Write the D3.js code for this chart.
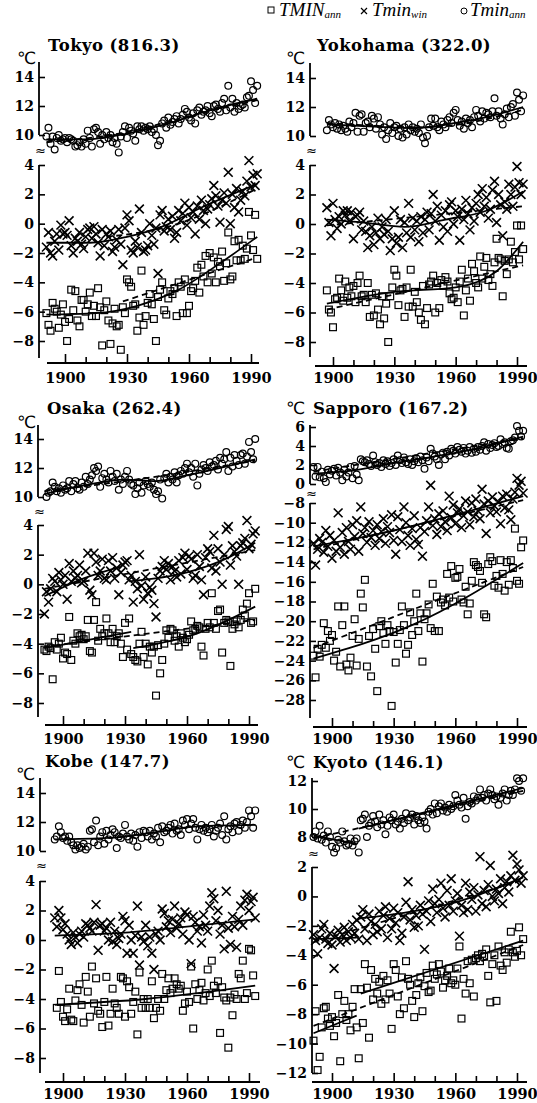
<!DOCTYPE html>
<html>
<head>
<meta charset="utf-8">
<script src="https://cdn.jsdelivr.net/npm/d3@7"></script>
<style>
  body { margin: 0; background: #fff; }
  svg { display: block; }
</style>
</head>
<body>
<div id="chart"></div>
<script>
// ---- data: annual mean Tmin (circles), winter Tmin (crosses), annual absolute minimum (squares)
const tokyoStart = 1891;
const tokyoAnn = [
  9.9, 10.5, 9.4, 9.9, 9.0, 9.8, 10.0, 9.6, 9.7, 9.8,
  9.5, 9.8, 9.7, 9.6, 9.2, 9.3, 9.5, 9.2, 9.7, 9.4,
  10.3, 9.8, 9.2, 10.4, 10.5, 10.2, 9.4, 10.0, 9.7, 10.2,
  9.8, 10.0, 9.5, 9.8, 9.4, 8.8, 9.9, 10.2, 10.6, 9.8,
  10.5, 10.3, 10.1, 9.6, 10.6, 10.4, 10.6, 10.3, 10.5, 10.4,
  10.6, 10.2, 10.4, 10.0, 9.3, 9.6, 10.8, 11.0, 10.5, 11.2,
  10.7, 10.9, 11.1, 11.3, 10.8, 11.1, 11.4, 11.8, 11.6, 11.2,
  11.0, 11.5, 10.8, 11.7, 11.9, 11.4, 11.6, 11.7, 12.0, 11.5,
  11.3, 12.0, 12.1, 11.8, 11.6, 12.2, 12.5, 11.7, 13.4, 11.9,
  12.5, 11.6, 12.2, 11.8, 12.0, 12.1, 11.9, 12.6, 12.7, 13.7,
  13.1, 12.2, 13.4
];
const tokyoWin = [
  -1.6, -0.6, -2.0, -2.2, -1.2, -0.7, -1.8, -0.1, -0.7, -0.6,
  -0.8, 0.2, -1.5, -2.0, -1.0, -1.2, -0.6, -1.4, -1.7, -0.9,
  -0.4, -0.3, -1.0, -0.2, -0.7, -1.3, -2.2, -0.4, -1.5, -0.7,
  -0.9, -0.5, -1.9, -1.6, -1.1, -0.4, -1.4, -2.8, -0.3, 0.6,
  0.2, -1.8, -2.0, -1.2, -1.6, 1.0, -0.6, -1.9, -1.8, -1.5,
  0.0, -0.8, -1.4, -0.3, -3.4, 0.6, 0.9, -0.5, -0.2, 0.3,
  -0.4, 0.5, -1.0, -0.6, 0.9, 0.2, 0.7, 1.4, -0.1, 1.1,
  0.4, 0.8, -0.7, 1.2, 0.3, 1.6, 0.9, 0.0, 1.0, 1.3,
  1.7, 2.6, 1.9, 1.2, 0.1, 1.6, 2.1, 1.4, 3.5, 0.0,
  2.0, 1.1, 2.4, 0.8, 1.6, 2.2, 1.9, 2.9, 4.3, 2.5,
  3.3, 2.6, 3.4
];
const tokyoMin = [
  -6.1, -6.9, -7.3, -5.4, -5.8, -6.0, -7.1, -6.2, -5.5, -6.7,
  -8.0, -6.5, -4.5, -5.9, -4.6, -6.6, -7.0, -5.2, -5.2, -6.0,
  -5.5, -4.7, -6.3, -5.6, -6.3, -4.4, -5.7, -8.3, -5.9, -5.3,
  -6.6, -8.2, -6.8, -5.8, -7.0, -6.9, -8.6, -5.7, -6.1, -3.8,
  -4.0, -4.3, -5.6, -5.5, -7.3, -6.4, -3.2, -6.9, -6.3, -5.4,
  -4.8, -5.5, -6.5, -8.0, -5.0, -4.5, -4.0, -5.9, -6.2, -5.1,
  -4.6, -4.8, -4.4, -6.3, -4.0, -4.3, -6.1, -3.8, -6.1, -5.6,
  -4.6, -4.4, -3.9, -3.0, -4.7, -2.8, -3.6, -2.2, -4.0, -2.0,
  -3.4, -2.3, -4.0, -2.6, -2.9, -1.9, -3.9, -2.7, -0.6, -3.8,
  -3.6, -1.2, -2.5, -1.1, -2.5, -1.5, -2.4, -1.7, 0.8, -0.8,
  -1.8, 0.6, -2.4
];
const tokyoAnnFit = [[[1891, 9.7], [1910, 9.7], [1930, 10.1], [1950, 10.8], [1970, 11.7], [1993, 12.5]]];
const tokyoAnnFit2 = [[[1891, 9.5], [1930, 10.2], [1960, 11.3], [1993, 12.4]]];
const tokyoWinFit = [[[1891, -1.3], [1912, -1.3], [1930, -0.9], [1947, -0.2], [1966, 1.1], [1993, 2.7]]];
const tokyoWinFit2 = [[[1920, -0.9], [1950, -0.2], [1993, 2.4]]];
const tokyoMinFit = [[[1891, -6.2], [1915, -6.1], [1935, -5.6], [1955, -4.5], [1975, -2.7], [1993, -0.9]]];
const tokyoMinFit2 = [[[1928, -5.3], [1991, -2.4]]];

const yokoStart = 1897;
const yokoAnn = [
  10.4, 11.1, 10.8, 10.6,
  10.9, 10.5, 10.8, 10.4, 10.7, 10.5, 10.3, 11.0, 10.6, 10.9,
  11.6, 10.3, 11.4, 11.5, 10.3, 10.9, 11.0, 10.6, 11.4, 11.2,
  10.5, 11.3, 10.8, 10.1, 10.6, 9.8, 10.4, 10.9, 10.2, 10.6,
  10.7, 10.0, 10.5, 9.9, 10.6, 10.1, 10.8, 10.4, 10.6, 10.3,
  10.5, 10.2, 10.8, 9.9, 9.5, 10.0, 10.6, 11.2, 10.7, 11.2,
  10.6, 10.4, 11.0, 10.8, 10.6, 11.1, 11.3, 10.9, 11.6, 11.8,
  11.1, 10.7, 11.0, 10.5, 11.2, 10.9, 11.1, 10.6, 11.3, 11.8,
  11.4, 11.0, 11.7, 11.2, 11.6, 11.5, 11.3, 11.7, 12.6, 11.4,
  11.7, 11.2, 10.8, 11.5, 11.9, 11.3, 12.0, 12.2, 11.4, 13.0,
  12.5, 11.7, 12.8
];
const yokoWin = [
  1.1, 0.1, -0.8, 1.4,
  0.3, -0.3, 0.5, 0.0, 0.9, 0.6, 0.9, 0.2, 0.8, -1.0,
  0.5, 0.6, 0.8, -0.4, 0.2, -0.5, -1.6, -0.8, -0.2, -1.4,
  -0.6, 0.4, -1.0, -0.2, -0.7, 0.3, -0.5, -1.8, -1.0, 0.9,
  -1.3, -0.9, 0.3, -1.6, 0.1, -0.6, 1.4, -0.9, 0.4, -0.4,
  0.2, -1.2, 0.5, -0.6, 0.3, 0.8, -0.4, 0.7, 2.0, 0.2,
  1.2, -1.1, 0.6, -0.2, 0.9, -0.5, 1.3, 1.5, 0.0, 0.9,
  0.5, -1.1, 1.0, 0.3, 1.6, 0.7, -0.4, 1.1, 0.2, 1.4,
  2.0, 0.8, 2.4, 1.2, 1.8, 0.4, 1.0, 2.3, 2.9, 0.1,
  2.0, 1.3, -0.8, 1.5, 1.0, 2.7, 2.0, 1.2, 2.5, 3.9,
  2.8, 2.0, 2.7
];
const yokoMin = [
  -4.5, -5.8, -6.0, -7.0,
  -5.1, -5.0, -3.7, -4.5, -5.2, -3.9, -5.0, -4.3, -4.9, -4.2,
  -5.3, -4.0, -3.5, -4.9, -4.8, -5.3, -4.0, -6.3, -4.8, -6.2,
  -4.7, -5.8, -6.8, -4.9, -6.4, -5.4, -8.0, -4.9, -4.3, -3.1,
  -3.5, -5.5, -4.5, -4.4, -6.3, -4.3, -5.6, -3.1, -5.6, -4.6,
  -5.3, -6.0, -6.5, -4.2, -6.8, -5.7, -4.1, -3.9, -3.5, -6.0,
  -4.0, -5.7, -3.8, -4.2, -3.6, -3.9, -4.7, -5.1, -5.0, -4.3,
  -5.3, -3.9, -3.1, -6.2, -4.5, -3.7, -5.2, -2.7, -3.2, -4.0,
  -4.3, -2.2, -3.7, -2.9, -2.3, -3.8, -3.4, -4.2, -2.6, -1.0,
  -2.3, -2.4, -4.9, -2.5, -3.4, -2.4, -1.2, -2.6, -1.9, -0.1,
  -2.4, -0.1, -1.7
];
const yokoAnnFit = [[[1897, 10.8], [1920, 10.65], [1940, 10.55], [1960, 10.9], [1975, 11.3], [1993, 12.0]]];
const yokoAnnFit2 = [[[1897, 10.9], [1945, 10.6], [1993, 11.8]]];
const yokoWinFit = [[[1897, 0.3], [1915, 0.1], [1935, -0.2], [1955, 0.3], [1975, 0.9], [1993, 2.2]]];
const yokoWinFit2 = [[[1897, -0.1], [1993, 1.2]]];
const yokoMinFit = [[[1897, -5.4], [1930, -4.6], [1960, -4.3], [1980, -3.2], [1993, -1.2]]];
const yokoMinFit2 = [[[1897, -5.8], [1993, -2.8]]];

const osakaStart = 1891;
const osakaAnn = [
  null, 10.0, 10.3, 10.4, 11.0, 10.7, 10.4, 10.6, 10.3, 10.8,
  10.5, 10.6, 11.1, 10.4, 10.9, 11.1, 10.6, 10.5, 11.0, 10.7,
  11.4, 10.9, 11.2, 11.5, 12.0, 11.8, 12.1, 10.7, 11.3, 11.6,
  11.2, 11.0, 11.8, 11.4, 11.1, 11.6, 10.5, 11.2, 10.9, 11.4,
  11.8, 11.2, 10.9, 10.8, 10.2, 10.6, 11.0, 10.3, 10.8, 11.1,
  10.9, 10.7, 11.0, 10.5, 10.2, 10.4, 11.2, 9.9, 11.3, 11.6,
  11.0, 11.4, 11.2, 11.7, 11.0, 11.5, 11.8, 11.6, 12.0, 12.3,
  11.7, 12.0, 11.4, 12.3, 10.8, 11.6, 11.9, 12.2, 12.0, 11.8,
  12.4, 12.1, 12.2, 12.5, 11.9, 12.7, 12.3, 12.6, 13.1, 11.8,
  12.7, 12.1, 12.9, 12.5, 12.2, 12.9, 13.0, 12.3, 12.8, 13.8,
  13.1, 12.6, 14.0
];
const osakaWin = [
  -2.0, -0.5, -1.2, -0.3, 0.4, 0.2, -0.5, 0.8, 0.3, 0.0,
  0.6, -1.0, 1.4, 0.2, 0.9, 0.4, 0.6, 1.3, 0.1, 0.2,
  0.9, 2.1, -0.4, -0.7, 2.1, 1.5, 0.6, 0.9, 1.7, 0.4,
  0.3, 1.6, 0.9, 1.8, 0.4, 1.1, -0.7, 0.8, 1.3, 1.5,
  1.6, 0.3, 0.6, -1.2, 0.2, -0.3, 2.0, -0.1, -1.0, 0.5,
  -0.6, -0.2, -0.4, -1.3, -2.2, 0.4, 0.9, 1.2, 1.6, 1.0,
  1.4, 0.3, 1.2, 0.9, 0.5, 1.6, 0.7, 1.8, 2.1, 1.0,
  1.9, 1.7, 0.4, 0.6, 2.0, 1.2, 0.3, -0.7, 1.8, 2.4,
  2.2, 1.1, 3.3, 0.9, 2.4, 1.5, 0.0, 2.0, 3.7, 3.9,
  1.3, 2.6, 2.2, 1.9, 0.0, 2.6, 2.8, 3.1, 4.3, 2.4,
  2.7, 3.4, 3.6
];
const osakaMin = [
  -4.4, -4.5, -4.2, -4.3, -6.4, -3.9, -4.4, -4.0, -3.6, -5.0,
  -4.6, -4.7, -2.2, -5.1, -3.8, -4.0, -3.3, -3.5, -3.4, -3.7,
  -3.5, -2.4, -4.5, -4.6, -2.4, -1.2, -3.8, -3.0, -3.5, -3.3,
  -2.3, -3.3, -3.9, -3.0, -3.9, -3.5, -3.3, -4.0, -4.9, -2.6,
  -4.4, -2.3, -4.7, -4.9, -5.1, -5.2, -4.0, -3.2, -4.9, -4.0,
  -5.4, -4.2, -4.6, -4.2, -7.5, -4.1, -6.0, -5.1, -4.0, -3.1,
  -3.6, -3.0, -3.1, -3.8, -3.5, -4.2, -3.3, -3.6, -3.9, -3.7,
  -3.4, -2.5, -3.1, -3.0, -2.8, -2.9, -4.2, -4.8, -3.0, -2.6,
  -2.9, -0.6, -2.6, -3.0, -1.8, -1.7, -4.6, -2.6, -2.4, -2.5,
  -5.5, -3.0, -2.7, -2.5, -2.9, -2.4, -1.7, -2.1, -1.3, -0.6,
  -2.6, -2.5, -0.3
];
const osakaAnnFit = [[[1891, 10.2], [1910, 10.8], [1930, 11.2], [1945, 11.1], [1960, 11.5], [1993, 12.6]]];
const osakaAnnFit2 = [[[1891, 10.4], [1940, 11.3], [1993, 12.5]]];
const osakaWinFit = [[[1891, -0.8], [1910, 0.4], [1928, 1.2]], [[1932, 0.2], [1960, 0.8], [1980, 1.8], [1993, 2.8]]];
const osakaWinFit2 = [[[1891, -0.3], [1993, 2.3]]];
const osakaMinFit = [[[1891, -4.3], [1933, -3.2]], [[1934, -4.3], [1965, -3.3], [1993, -1.5]]];
const osakaMinFit2 = [[[1891, -4.2], [1993, -2.4]]];

const sapporoStart = 1891;
const sapporoAnn = [
  1.8, 0.8, 1.8, 0.7, 1.3, 0.6, 0.2, 1.5, 1.0, 1.4,
  1.6, 0.9, 1.7, 1.2, 0.4, 1.5, 0.8, 1.2, 1.8, 0.6,
  1.9, 1.0, 0.4, 2.6, 2.4, 2.3, 2.5, 2.1, 1.9, 3.0,
  2.3, 2.0, 2.2, 1.8, 2.5, 2.1, 2.4, 1.9, 2.2, 2.6,
  2.0, 3.0, 2.5, 2.2, 2.8, 2.3, 2.1, 2.6, 2.0, 2.4,
  2.7, 2.3, 2.9, 2.5, 1.6, 2.8, 2.4, 3.7, 3.2, 2.9,
  2.6, 2.0, 3.1, 3.3, 2.6, 3.4, 3.0, 3.7, 3.5, 3.2,
  3.9, 3.6, 3.4, 3.8, 3.2, 3.5, 3.9, 3.3, 3.7, 3.4,
  3.9, 3.6, 4.0, 4.4, 3.5, 4.2, 3.8, 4.1, 4.3, 3.9,
  4.0, 4.7, 4.2, 4.4, 3.8, 3.7, 4.5, 4.6, 4.9, 6.1,
  5.6, 5.0, 5.6
];
const sapporoWin = [
  -12.1, -14.3, -12.7, -11.6, -12.0, -13.0, -10.8, -12.4, -11.3, -13.6,
  -11.8, -12.9, -9.0, -12.5, -11.0, -13.2, -10.5, -11.9, -12.7, -10.2,
  -11.4, -9.8, -12.9, -8.4, -11.1, -10.5, -12.0, -9.9, -11.5, -10.8,
  -12.3, -10.2, -11.6, -10.9, -9.6, -12.1, -10.4, -11.0, -9.2, -11.8,
  -13.2, -9.4, -10.7, -11.9, -8.4, -10.0, -11.3, -12.3, -10.6, -9.3,
  -11.7, -12.2, -10.5, -13.4, -10.9, -9.8, -8.4, -6.2, -10.3, -9.6,
  -11.2, -9.1, -10.4, -8.8, -9.9, -10.8, -7.3, -9.5, -8.2, -10.1,
  -9.0, -8.6, -10.5, -9.3, -7.8, -8.9, -10.2, -8.0, -9.4, -7.6,
  -8.8, -9.6, -6.6, -8.1, -11.1, -7.8, -9.0, -7.4, -8.3, -8.9,
  -7.9, -10.1, -7.3, -8.5, -7.1, -8.7, -9.7, -7.6, -6.9, -5.5,
  -6.2, -5.8, -7.0
];
const sapporoMin = [
  -23.5, -25.7, -22.8, -23.6, -22.4, -20.2, -22.7, -21.0, -22.0, -21.4,
  -24.0, -23.1, -18.5, -24.6, -20.4, -18.5, -24.4, -25.0, -23.7, -21.5,
  -19.8, -24.5, -21.8, -17.2, -18.6, -15.8, -24.6, -21.5, -25.6, -20.8,
  -22.8, -27.1, -20.5, -20.0, -21.2, -22.3, -20.4, -21.0, -28.6, -21.1,
  -24.2, -22.3, -20.9, -18.5, -20.4, -23.3, -22.4, -19.1, -21.4, -20.0,
  -17.2, -21.0, -19.2, -24.1, -19.8, -19.2, -18.3, -20.7, -16.2, -21.0,
  -17.5, -21.0, -18.1, -17.8, -18.4, -15.2, -17.6, -14.4, -18.0, -15.6,
  -15.5, -14.7, -17.8, -18.1, -16.5, -19.3, -18.2, -15.9, -14.0, -14.3,
  -14.5, -14.9, -16.1, -19.3, -19.6, -14.2, -13.5, -13.9, -16.4, -15.4,
  -16.6, -13.8, -15.2, -16.9, -14.0, -16.3, -13.8, -14.6, -10.6, -15.9,
  -16.2, -12.5, -11.8
];
const sapporoAnnFit = [[[1891, 1.1], [1910, 1.4], [1930, 2.2], [1950, 2.9], [1970, 3.7], [1993, 5.0]]];
const sapporoAnnFit2 = [[[1891, 1.3], [1993, 4.8]]];
const sapporoWinFit = [[[1891, -12.4], [1930, -10.8], [1960, -9.2], [1993, -7.3]]];
const sapporoWinFit2 = [[[1891, -12.7], [1993, -7.7]]];
const sapporoMinFit = [[[1891, -23.8], [1940, -20.3], [1993, -14.1]]];
const sapporoMinFit2 = [[[1891, -22.7], [1993, -14.5]]];

const kobeStart = 1896;
const kobeAnn = [
  10.8, 11.0, 11.7, 11.3, 10.9,
  11.0, 10.7, 11.0, 10.6, 10.4, 10.1, 10.4, 10.2, 10.3, 10.5,
  10.1, 10.3, 11.4, 11.5, 10.6, 12.1, 10.4, 11.0, 11.3, 10.5,
  11.4, 10.8, 11.1, 11.5, 11.3, 10.2, 11.0, 10.9, 11.2, 11.8,
  11.0, 10.8, 11.2, 10.7, 11.1, 10.3, 11.3, 10.9, 11.4, 11.3,
  11.0, 11.4, 10.8, 11.2, 11.0, 11.6, 10.6, 11.7, 11.3, 11.4,
  11.6, 11.8, 11.2, 11.9, 11.4, 11.5, 11.1, 12.1, 11.8, 12.2,
  11.5, 11.9, 12.2, 11.6, 10.8, 11.5, 11.8, 11.4, 11.6, 11.3,
  11.5, 11.8, 11.0, 11.4, 11.6, 11.9, 11.1, 12.4, 10.8, 11.5,
  11.7, 11.3, 11.9, 12.0, 11.4, 11.8, 12.1, 11.6, 12.0, 12.8,
  12.4, 11.6, 12.8
];
const kobeWin = [
  1.5, 0.9, 2.0, 1.5, 0.7,
  1.1, 0.4, 0.0, -0.3, 0.5, 0.2, -0.2, 0.4, 0.6, 0.2,
  1.1, 1.0, 0.8, 0.6, 1.2, 2.4, -0.7, 1.0, 1.1, 0.6,
  0.8, 0.0, 1.2, -0.1, 0.6, -0.3, 0.1, 0.4, 1.6, 1.3,
  -0.9, 1.0, 0.0, -0.9, 0.3, 2.3, -1.7, 0.2, -0.1, 1.0,
  -0.4, 0.2, -0.9, -2.0, 0.4, 0.6, 0.0, 2.1, 1.8, 0.9,
  1.3, 0.5, 1.4, 2.3, 0.8, 1.1, 1.5, 0.4, 1.9, 1.7,
  0.0, -1.6, 1.6, 1.2, 0.6, 0.9, -0.2, 1.7, 1.0, 0.6,
  2.3, 3.2, 2.8, 1.3, 2.0, 0.4, 1.0, -0.6, 3.3, 0.8,
  -0.3, 1.6, 0.9, -0.5, 1.4, 2.3, 1.0, 2.7, 3.1, 2.0,
  2.6, 2.9, 1.5
];
const kobeMin = [
  null, -4.6, -2.1, -4.2, -5.2,
  -5.5, -4.7, -3.3, -5.4, -5.5, -4.1, -3.4, -3.0, -4.4, -5.6,
  -2.5, -3.5, -5.2, -1.8, -4.3, -2.6, -4.8, -5.0, -5.9, -4.2,
  -2.5, -5.8, -5.0, -3.3, -4.3, -4.6, -5.0, -2.5, -2.6, -5.2,
  -2.8, -3.2, -5.0, -4.2, -3.5, -6.4, -2.2, -4.6, -4.0, -4.6,
  -4.0, -4.6, -2.8, -5.3, -4.6, -4.0, -4.8, -2.3, -4.0, -3.4,
  -2.6, -3.6, -3.3, -2.6, -3.0, -3.3, -3.1, -4.8, -4.3, -3.5,
  -4.2, -1.8, -6.0, -3.0, -4.0, -3.4, -2.9, -4.1, -3.6, -2.0,
  -3.8, -1.4, -3.1, -3.6, -2.8, -6.3, -3.2, -3.9, -4.1, -7.3,
  -3.9, -5.1, -3.7, -4.0, -2.3, -2.6, -1.4, -4.0, -3.6, -0.6,
  -0.7, -2.4, -3.8
];
const kobeAnnFit = [[[1896, 10.8], [1922, 10.9], [1945, 11.3], [1965, 11.7], [1993, 11.8]]];
const kobeWinFit = [[[1896, 0.3], [1930, 0.5], [1960, 0.9], [1993, 1.4]]];
const kobeMinFit = [[[1896, -4.4], [1940, -4.0], [1993, -3.1]]];

const kyotoStart = 1891;
const kyotoAnn = [
  8.0, 8.4, 7.9, 8.8, 7.8, 8.1, 7.6, 8.4, 8.0, 7.3,
  6.9, 7.2, 7.8, 7.6, 8.4, 7.7, 7.4, 7.5, 7.9, 7.4,
  7.7, 7.9, 6.9, 9.2, 9.3, 9.6, 8.0, 8.8, 9.0, 9.5,
  9.1, 8.7, 9.6, 8.9, 9.2, 8.2, 8.8, 9.4, 9.2, 9.6,
  8.9, 9.1, 8.6, 9.3, 9.0, 9.7, 9.2, 9.4, 9.6, 8.9,
  9.5, 9.2, 9.0, 9.4, 9.1, 8.6, 9.8, 10.0, 9.6, 10.4,
  9.7, 10.2, 10.4, 9.9, 10.1, 9.8, 10.3, 10.0, 10.2, 11.0,
  10.6, 10.3, 10.1, 10.8, 9.3, 10.2, 10.5, 10.4, 10.9, 10.6,
  10.8, 11.4, 10.8, 11.0, 10.6, 11.1, 11.4, 11.0, 10.7, 10.9,
  10.3, 10.8, 11.1, 11.4, 10.6, 11.0, 11.3, 11.0, 11.4, 12.2,
  12.0, 11.3, 12.2
];
const kyotoWin = [
  -2.6, -3.0, -3.9, -2.8, -2.2, -1.9, -2.9, -3.2, -2.5, -3.3,
  -4.9, -2.7, -2.3, -3.1, -2.6, -2.1, -3.0, -2.4, -2.8, -1.9,
  -2.5, -1.6, -2.9, -1.4, -0.9, -2.2, -3.0, -1.2, -1.7, -2.6,
  -1.9, -2.4, -1.0, -2.2, -1.3, -0.7, -2.8, -1.5, -2.2, -0.8,
  -1.8, -1.1, -3.0, -2.5, -1.4, -0.4, 1.0, -1.6, -0.9, -2.1,
  -1.3, -2.0, -0.6, -1.2, -3.6, -1.0, -0.3, -1.7, 0.5, -0.5,
  -1.1, -0.2, 0.9, -0.8, -1.4, 0.4, -0.6, 1.2, -1.0, -0.3,
  0.2, -2.7, -0.6, -1.1, 0.9, -0.9, 0.3, -0.2, 0.6, -1.0,
  0.1, 2.7, -0.5, 0.4, -0.7, 0.8, 2.1, 0.0, -0.3, 0.5,
  0.2, 1.2, -0.5, 0.6, 1.0, 0.3, 1.4, 2.8, 1.1, 2.2,
  1.8, 0.9, 1.4
];
const kyotoMin = [
  -9.8, -7.8, -11.8, -10.9, -8.9, -7.6, -7.5, -8.3, -8.8, -8.2,
  -9.5, -8.6, -6.7, -11.2, -8.0, -7.1, -8.4, -8.0, -9.1, -7.5,
  -6.3, -8.9, -11.0, -6.3, -8.6, -4.6, -6.2, -9.6, -5.0, -7.0,
  -5.6, -6.6, -5.8, -7.3, -5.4, -7.0, -5.7, -6.6, -9.0, -4.6,
  -5.0, -6.8, -8.0, -5.5, -7.6, -4.4, -5.6, -6.0, -7.1, -8.2,
  -6.7, -5.9, -5.5, -7.8, -6.1, -5.2, -6.5, -6.4, -4.7, -5.6,
  -5.3, -4.6, -5.1, -6.2, -5.7, -5.4, -4.9, -5.9, -5.7, -6.0,
  -4.9, -3.4, -8.3, -5.6, -6.6, -4.4, -5.9, -4.3, -6.8, -4.2,
  -4.0, -4.4, -3.9, -4.1, -3.6, -5.4, -7.2, -4.6, -4.0, -7.1,
  -3.4, -4.7, -5.0, -3.8, -4.5, -3.6, -2.4, -3.8, -4.1, -3.7,
  -2.1, -4.0, -2.9
];
const kyotoAnnFit = [[[1891, 8.1], [1912, 7.5]], [[1913, 8.6], [1993, 11.5]]];
const kyotoAnnFit2 = [[[1891, 7.9], [1993, 11.3]]];
const kyotoWinFit = [[[1891, -2.9], [1912, -2.8]], [[1913, -1.5], [1940, -1.0], [1960, -0.4], [1993, 1.3]]];
const kyotoWinFit2 = [[[1891, -3.1], [1993, 1.1]]];
const kyotoMinFit = [[[1891, -9.3], [1912, -8.1]], [[1914, -6.6], [1993, -3.0]]];
const kyotoMinFit2 = [[[1891, -8.8], [1993, -3.3]]];

const xTickYears = d3.range(1900, 1991, 10);
const xLabelYears = [1900, 1930, 1960, 1990];

// ---- panel layout
const panels = [
  { title: "Tokyo (816.3)", start: tokyoStart, ann: tokyoAnn, win: tokyoWin, min: tokyoMin,
    solid: [tokyoAnnFit, tokyoWinFit, tokyoMinFit], dashed: [tokyoAnnFit2, tokyoWinFit2, tokyoMinFit2],
    axisX: 39, x0: 65, x1: 251, upDom: [10, 14], upRng: [135, 77], upTop: 62, upTicks: [10, 12, 14],
    loDom: [-8, 4], loRng: [341, 165], loBottom: 358, loTicks: d3.range(-8, 5, 2),
    xAxisY: 363, xL: 47, xR: 259, labelY: 383, titleX: 48, titleY: 51, degX: 17, degY: 64, breakY: 155 },
  { title: "Yokohama (322.0)", start: yokoStart, ann: yokoAnn, win: yokoWin, min: yokoMin,
    solid: [yokoAnnFit, yokoWinFit, yokoMinFit], dashed: [yokoAnnFit2, yokoWinFit2, yokoMinFit2],
    axisX: 310, x0: 333, x1: 517, upDom: [10, 14], upRng: [136, 78], upTop: 63, upTicks: [10, 12, 14],
    loDom: [-8, 4], loRng: [342, 165], loBottom: 357, loTicks: d3.range(-8, 5, 2),
    xAxisY: 366, xL: 315, xR: 527, labelY: 383, titleX: 317, titleY: 51, degX: 286, degY: 64, breakY: 155 },
  { title: "Osaka (262.4)", start: osakaStart, ann: osakaAnn, win: osakaWin, min: osakaMin,
    solid: [osakaAnnFit, osakaWinFit, osakaMinFit], dashed: [osakaAnnFit2, osakaWinFit2, osakaMinFit2],
    axisX: 38, x0: 63, x1: 249, upDom: [10, 14], upRng: [497, 439], upTop: 425, upTicks: [10, 12, 14],
    loDom: [-8, 4], loRng: [703, 525], loBottom: 717, loTicks: d3.range(-8, 5, 2),
    xAxisY: 725, xL: 45, xR: 258, labelY: 744, titleX: 47, titleY: 414, degX: 17, degY: 428, breakY: 516 },
  { title: "Sapporo (167.2)", start: sapporoStart, ann: sapporoAnn, win: sapporoWin, min: sapporoMin,
    solid: [sapporoAnnFit, sapporoWinFit, sapporoMinFit], dashed: [sapporoAnnFit2, sapporoWinFit2, sapporoMinFit2],
    axisX: 310, x0: 332, x1: 517, upDom: [0, 6], upRng: [484, 427], upTop: 425, upTicks: [0, 2, 4, 6],
    loDom: [-28, -8], loRng: [700, 503], loBottom: 718, loTicks: d3.range(-28, -7, 2),
    xAxisY: 727, xL: 313, xR: 527, labelY: 744, titleX: 313, titleY: 414, degX: 286, degY: 414, breakY: 498 },
  { title: "Kobe (147.7)", start: kobeStart, ann: kobeAnn, win: kobeWin, min: kobeMin,
    solid: [kobeAnnFit, kobeWinFit, kobeMinFit], dashed: [],
    axisX: 40, x0: 63, x1: 249, upDom: [10, 14], upRng: [851, 793], upTop: 778, upTicks: [10, 12, 14],
    loDom: [-8, 4], loRng: [1058, 881], loBottom: 1073, loTicks: d3.range(-8, 5, 2),
    xAxisY: 1082, xL: 45, xR: 260, labelY: 1099, titleX: 45, titleY: 767, degX: 16, degY: 780, breakY: 870 },
  { title: "Kyoto (146.1)", start: kyotoStart, ann: kyotoAnn, win: kyotoWin, min: kyotoMin,
    solid: [kyotoAnnFit, kyotoWinFit, kyotoMinFit], dashed: [kyotoAnnFit2, kyotoWinFit2, kyotoMinFit2],
    axisX: 312, x0: 332, x1: 517, upDom: [8, 12], upRng: [837, 781], upTop: 778, upTicks: [8, 10, 12],
    loDom: [-12, 2], loRng: [1073, 867], loBottom: 1073, loTicks: d3.range(-12, 3, 2),
    xAxisY: 1082, xL: 312, xR: 527, labelY: 1099, titleX: 313, titleY: 768, degX: 286, degY: 768, breakY: 858 }
];

const FONT = "'DejaVu Serif', 'Liberation Serif', serif";

const svg = d3.select("#chart")
  .append("svg")
    .attr("width", 537)
    .attr("height", 1103)
    .style("background", "#fff");

function toPoints(arr, start) {
  return arr.map(function(v, i) { return { yr: start + i, v: v }; })
            .filter(function(d) { return d.v !== null; });
}

panels.forEach(function(p) {
  const g = svg.append("g");
  const x = d3.scaleLinear().domain([1900, 1990]).range([p.x0, p.x1]);
  const yU = d3.scaleLinear().domain(p.upDom).range(p.upRng);
  const yL = d3.scaleLinear().domain(p.loDom).range(p.loRng);

  // y axes (ticks pointing inward, labels outside)
  const upAxis = g.append("g")
    .attr("transform", "translate(" + p.axisX + ",0)")
    .call(d3.axisLeft(yU).tickValues(p.upTicks).tickSizeInner(-6).tickSizeOuter(0).tickPadding(5).tickFormat(d3.format("d")));
  const loAxis = g.append("g")
    .attr("transform", "translate(" + p.axisX + ",0)")
    .call(d3.axisLeft(yL).tickValues(p.loTicks).tickSizeInner(-6).tickSizeOuter(0).tickPadding(5).tickFormat(d3.format("d")));
  [upAxis, loAxis].forEach(function(a) {
    a.select(".domain").remove();
    a.selectAll(".tick line").attr("stroke", "#000").attr("stroke-width", 1.6);
    a.selectAll(".tick text")
      .attr("font-family", FONT)
      .attr("font-weight", "bold")
      .attr("font-size", 14)
      .attr("fill", "#000");
  });
  g.append("line")
    .attr("x1", p.axisX).attr("x2", p.axisX)
    .attr("y1", p.upTop).attr("y2", p.upRng[0])
    .attr("stroke", "#000").attr("stroke-width", 1.8);
  g.append("line")
    .attr("x1", p.axisX).attr("x2", p.axisX)
    .attr("y1", p.loRng[1]).attr("y2", p.loBottom)
    .attr("stroke", "#000").attr("stroke-width", 1.8);

  // axis break mark, straddling the axis line
  g.append("text")
    .attr("x", p.axisX + 1.5)
    .attr("y", p.breakY)
    .attr("text-anchor", "middle")
    .attr("font-family", "'DejaVu Sans', sans-serif")
    .attr("font-size", 13)
    .text("≈");

  // x axis (ticks upward)
  const xAxis = g.append("g")
    .attr("transform", "translate(0," + p.xAxisY + ")")
    .call(d3.axisBottom(x).tickValues(xTickYears).tickSizeInner(-8).tickSizeOuter(0).tickPadding(0)
      .tickFormat(function(d) { return xLabelYears.indexOf(d) >= 0 ? d : ""; }));
  xAxis.select(".domain").remove();
  xAxis.selectAll(".tick line")
    .attr("stroke", "#000")
    .attr("stroke-width", 1.6)
    .attr("y2", function(d) { return xLabelYears.indexOf(d) >= 0 ? -9 : -6; });
  xAxis.selectAll(".tick text")
    .attr("y", p.labelY - p.xAxisY)
    .attr("dy", null)
    .attr("font-family", FONT)
    .attr("font-weight", "bold")
    .attr("font-size", 14.5)
    .attr("fill", "#000");
  g.append("line")
    .attr("x1", p.xL).attr("x2", p.xR)
    .attr("y1", p.xAxisY).attr("y2", p.xAxisY)
    .attr("stroke", "#000").attr("stroke-width", 1.8);

  // title and unit
  g.append("text")
    .attr("x", p.titleX).attr("y", p.titleY)
    .attr("font-family", FONT)
    .attr("font-weight", "bold")
    .attr("font-size", 16.5)
    .attr("letter-spacing", 0.4)
    .text(p.title);
  g.append("text")
    .attr("x", p.degX).attr("y", p.degY)
    .attr("font-family", "'DejaVu Sans', 'Noto Sans CJK JP', sans-serif")
    .attr("font-size", 17)
    .text("℃");

  // markers
  g.selectAll("rect.mn")
    .data(toPoints(p.min, p.start)).enter()
    .append("rect")
      .attr("class", "mn")
      .attr("x", function(d) { return x(d.yr) - 3.4; })
      .attr("y", function(d) { return yL(d.v) - 3.4; })
      .attr("width", 6.8).attr("height", 6.8)
      .attr("fill", "none").attr("stroke", "#000").attr("stroke-width", 1.2);

  g.selectAll("path.wn")
    .data(toPoints(p.win, p.start)).enter()
    .append("path")
      .attr("class", "wn")
      .attr("d", function(d) {
        const cx = x(d.yr), cy = yL(d.v), s = 4.4;
        return "M" + (cx - s) + "," + (cy - s) + "L" + (cx + s) + "," + (cy + s) +
               "M" + (cx - s) + "," + (cy + s) + "L" + (cx + s) + "," + (cy - s);
      })
      .attr("stroke", "#000").attr("stroke-width", 1.6).attr("fill", "none");

  g.selectAll("circle.an")
    .data(toPoints(p.ann, p.start)).enter()
    .append("circle")
      .attr("class", "an")
      .attr("cx", function(d) { return x(d.yr); })
      .attr("cy", function(d) { return yU(d.v); })
      .attr("r", 3.4)
      .attr("fill", "none").attr("stroke", "#000").attr("stroke-width", 1.2);

  // fitted curves: [annual (upper scale), winter, minimum (lower scale)]
  const scales = [yU, yL, yL];
  function drawFits(list, dashed) {
    list.forEach(function(segs, k) {
      const ys = scales[k];
      const line = d3.line()
        .x(function(d) { return x(d[0]); })
        .y(function(d) { return ys(d[1]); })
        .curve(d3.curveMonotoneX);
      segs.forEach(function(seg) {
        g.append("path")
          .attr("d", line(seg))
          .attr("fill", "none")
          .attr("stroke", "#000")
          .attr("stroke-width", 1.8)
          .attr("stroke-dasharray", dashed ? "6,4" : null);
      });
    });
  }
  drawFits(p.solid, false);
  drawFits(p.dashed, true);
});

// ---- legend
const legend = svg.append("g").attr("font-family", "'Liberation Serif', serif").attr("font-style", "italic");
legend.append("rect").attr("x", 268).attr("y", 7).attr("width", 6).attr("height", 6)
  .attr("fill", "none").attr("stroke", "#000").attr("stroke-width", 1);
legend.append("path").attr("d", "M361,8L367,14M361,14L367,8").attr("stroke", "#000").attr("stroke-width", 1.2);
legend.append("circle").attr("cx", 464).attr("cy", 11).attr("r", 3).attr("fill", "none").attr("stroke", "#000");
[["TMIN", "ann", 279], ["Tmin", "win", 372], ["Tmin", "ann", 470]].forEach(function(t) {
  const tx = legend.append("text").attr("x", t[2]).attr("y", 16).attr("font-size", 19).text(t[0]);
  tx.append("tspan").attr("font-size", 11).attr("dy", 2).text(t[1]);
});
</script>
</body>
</html>
